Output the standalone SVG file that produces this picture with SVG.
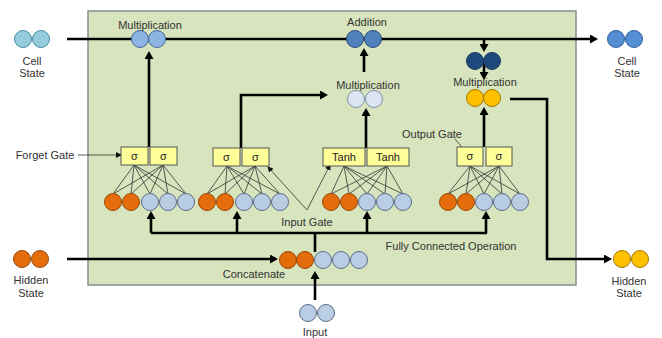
<svg xmlns="http://www.w3.org/2000/svg" width="662" height="338" viewBox="0 0 662 338">
<style>
text{font-family:"Liberation Sans",Arial,sans-serif;font-size:11px;fill:#333;text-anchor:middle}
.thick{fill:none;stroke:#000;stroke-width:2.6}
.thin{fill:none;stroke:#333;stroke-width:0.8}
.arr{marker-end:url(#ah)}
.sarr{marker-end:url(#sah)}
.or{fill:#e46c0a;stroke:#984807;stroke-width:1}
.lb{fill:#b9cde5;stroke:#5a6e8a;stroke-width:1}
.gate{fill:#ffff99;stroke:#555;stroke-width:1}
.gt{fill:#222;font-size:11px}
</style>
<defs>
<marker id="ah" markerWidth="9" markerHeight="9" refX="1" refY="4.5" orient="auto" markerUnits="userSpaceOnUse"><path d="M0,0 L8,4.5 L0,9 z" fill="#000"/></marker>
<marker id="sah" markerWidth="6" markerHeight="6" refX="5" refY="3" orient="auto" markerUnits="userSpaceOnUse"><path d="M0,0 L6,3 L0,6 z" fill="#111"/></marker>
</defs>
<rect id="cell-box" x="88" y="11" width="488" height="274" fill="#d7e4bd" stroke="#8c8c8c" stroke-width="1.5"/>
<g id="connectors">
<path class="thick arr" d="M67 39 H591"/>
<path class="thick arr" d="M149 147 V58"/>
<path class="thick arr" d="M241 148 V95 H321"/>
<path class="thick arr" d="M366 148 V115"/>
<path class="thick arr" d="M364 72 V55"/>
<path class="thick arr" d="M484 39 V45"/>
<path class="thick arr" d="M484 62 V73"/>
<path class="thick arr" d="M484 147 V114"/>
<path class="thick arr" d="M510 99 H547 V259 H605"/>
<path class="thick arr" d="M67 259 H271"/>
<path class="thick arr" d="M315 300 V278"/>
<path class="thick" d="M315 252 V233 M151 233 H487"/>
<path class="thick arr" d="M151 233 V218"/>
<path class="thick arr" d="M237 233 V218"/>
<path class="thick arr" d="M367 233 V218"/>
<path class="thick arr" d="M486 233 V218"/>
<path class="thin sarr" d="M78 155 H121"/>
<path class="thin sarr" d="M307 210 L268 167"/>
<path class="thin sarr" d="M307 210 L330 165"/>
<path class="thin sarr" d="M455 139 L466 152"/>
<path class="thin" d="M134 165 L113 194 M134 165 L131 194 M134 165 L150 194 M134 165 L168 194 M134 165 L186 194 M163 165 L113 194 M163 165 L131 194 M163 165 L150 194 M163 165 L168 194 M163 165 L186 194"/>
<path class="thin" d="M227 166 L207 194 M227 166 L225 194 M227 166 L244 194 M227 166 L262 194 M227 166 L280 194 M255 166 L207 194 M255 166 L225 194 M255 166 L244 194 M255 166 L262 194 M255 166 L280 194"/>
<path class="thin" d="M344 166 L331 194 M344 166 L349 194 M344 166 L367 194 M344 166 L385 194 M344 166 L403 194 M387 166 L331 194 M387 166 L349 194 M387 166 L367 194 M387 166 L385 194 M387 166 L403 194"/>
<path class="thin" d="M470 166 L448 194 M470 166 L466 194 M470 166 L484 194 M470 166 L502 194 M470 166 L520 194 M499 166 L448 194 M499 166 L466 194 M499 166 L484 194 M499 166 L502 194 M499 166 L520 194"/>
</g>
<g id="cell-state-in">
<circle cx="23" cy="39" r="8.5" fill="#93cddd" stroke="#4b8ea3"/>
<circle cx="41" cy="39" r="8.5" fill="#93cddd" stroke="#4b8ea3"/>
<text x="32" y="65">Cell</text><text x="32" y="77">State</text>
</g>
<g id="forget-mult">
<circle cx="140" cy="39" r="8.5" fill="#8eb4e3" stroke="#41669a"/>
<circle cx="157" cy="39" r="8.5" fill="#8eb4e3" stroke="#41669a"/>
<text x="150" y="29">Multiplication</text>
</g>
<g id="addition">
<circle cx="355" cy="39" r="8.5" fill="#4f81bd" stroke="#2c4d75"/>
<circle cx="373" cy="39" r="8.5" fill="#4f81bd" stroke="#2c4d75"/>
<text x="367" y="26">Addition</text>
</g>
<g id="input-mult">
<circle cx="356" cy="99" r="8.5" fill="#dce6f2" stroke="#7f8fa6"/>
<circle cx="374" cy="99" r="8.5" fill="#dce6f2" stroke="#7f8fa6"/>
<text x="368" y="89">Multiplication</text>
</g>
<g id="cell-tanh">
<circle cx="475" cy="61" r="8.5" fill="#1f497d" stroke="#17375e"/>
<circle cx="492" cy="61" r="8.5" fill="#1f497d" stroke="#17375e"/>
</g>
<g id="output-mult">
<circle cx="475" cy="98" r="8.5" fill="#ffc000" stroke="#a07800"/>
<circle cx="492" cy="98" r="8.5" fill="#ffc000" stroke="#a07800"/>
<text x="485" y="86">Multiplication</text>
</g>
<g id="cell-state-out">
<circle cx="616" cy="39" r="8.5" fill="#558ed5" stroke="#2c5f9e"/>
<circle cx="634" cy="39" r="8.5" fill="#558ed5" stroke="#2c5f9e"/>
<text x="627" y="65">Cell</text><text x="627" y="77">State</text>
</g>
<g id="hidden-in">
<circle cx="22" cy="259" r="8.5" class="or"/>
<circle cx="40" cy="259" r="8.5" class="or"/>
<text x="31" y="284">Hidden</text><text x="31" y="297">State</text>
</g>
<g id="hidden-out">
<circle cx="622" cy="259" r="8.5" fill="#ffc000" stroke="#a07800"/>
<circle cx="640" cy="259" r="8.5" fill="#ffc000" stroke="#a07800"/>
<text x="629" y="285">Hidden</text><text x="629" y="297">State</text>
</g>
<g id="input">
<circle cx="308" cy="313" r="8.5" class="lb"/>
<circle cx="326" cy="313" r="8.5" class="lb"/>
<text x="315" y="336">Input</text>
</g>
<g id="concat">
<circle cx="288" cy="260" r="8.5" class="or"/>
<circle cx="305" cy="260" r="8.5" class="or"/>
<circle cx="323" cy="260" r="8.5" class="lb"/>
<circle cx="341" cy="260" r="8.5" class="lb"/>
<circle cx="359" cy="260" r="8.5" class="lb"/>
<text x="254" y="278">Concatenate</text>
</g>
<g id="forget-gate">
<rect class="gate" x="121" y="147" width="27" height="18"/>
<rect class="gate" x="150" y="147" width="27" height="18"/>
<text class="gt" x="134.5" y="160">σ</text><text class="gt" x="163.5" y="160">σ</text>
<circle cx="113" cy="202" r="8.5" class="or"/><circle cx="131" cy="202" r="8.5" class="or"/>
<circle cx="150" cy="202" r="8.5" class="lb"/><circle cx="168" cy="202" r="8.5" class="lb"/><circle cx="186" cy="202" r="8.5" class="lb"/>
</g>
<g id="input-gate">
<rect class="gate" x="213" y="148" width="27" height="18"/>
<rect class="gate" x="242" y="148" width="27" height="18"/>
<text class="gt" x="226.5" y="161">σ</text><text class="gt" x="255.5" y="161">σ</text>
<circle cx="207" cy="202" r="8.5" class="or"/><circle cx="225" cy="202" r="8.5" class="or"/>
<circle cx="244" cy="202" r="8.5" class="lb"/><circle cx="262" cy="202" r="8.5" class="lb"/><circle cx="280" cy="202" r="8.5" class="lb"/>
</g>
<g id="candidate">
<rect class="gate" x="323" y="148" width="42" height="18"/>
<rect class="gate" x="367" y="148" width="42" height="18"/>
<text class="gt" x="344" y="161">Tanh</text><text class="gt" x="388" y="161">Tanh</text>
<circle cx="331" cy="202" r="8.5" class="or"/><circle cx="349" cy="202" r="8.5" class="or"/>
<circle cx="367" cy="202" r="8.5" class="lb"/><circle cx="385" cy="202" r="8.5" class="lb"/><circle cx="403" cy="202" r="8.5" class="lb"/>
</g>
<g id="output-gate">
<rect class="gate" x="457" y="147" width="26" height="19"/>
<rect class="gate" x="486" y="147" width="26" height="19"/>
<text class="gt" x="470" y="160">σ</text><text class="gt" x="499" y="160">σ</text>
<circle cx="448" cy="202" r="8.5" class="or"/><circle cx="466" cy="202" r="8.5" class="or"/>
<circle cx="484" cy="202" r="8.5" class="lb"/><circle cx="502" cy="202" r="8.5" class="lb"/><circle cx="520" cy="202" r="8.5" class="lb"/>
</g>
<g id="labels">
<text x="45" y="159">Forget Gate</text>
<text x="307" y="226">Input Gate</text>
<text x="432" y="138">Output Gate</text>
<text x="451" y="250">Fully Connected Operation</text>
</g>
</svg>
